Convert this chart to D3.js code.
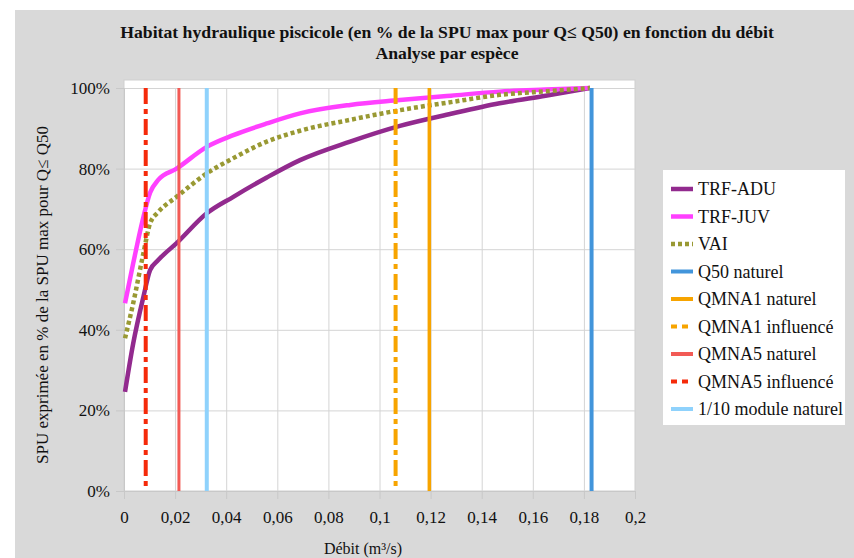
<!DOCTYPE html>
<html>
<head>
<meta charset="utf-8">
<script src="https://cdn.jsdelivr.net/npm/d3@7"></script>
<style>
  body { margin: 0; background: #fff; }
  svg text { font-family: "Liberation Serif", "Times New Roman", Times, serif !important; fill: #111; }
</style>
</head>
<body>
<div class="chartWrap"></div>
<script>
var width = 854,
  height = 558;

// débit (m3/s) for the habitat curves
var debit = [0.0004, 0.0036, 0.0076, 0.0102, 0.0134, 0.0206, 0.0324, 0.0428, 0.0559, 0.0689, 0.0885, 0.108, 0.128, 0.147, 0.165, 0.1824];
var trfAdu = [0.246, 0.366, 0.482, 0.548, 0.573, 0.615, 0.689, 0.730, 0.778, 0.821, 0.867, 0.906, 0.936, 0.962, 0.981, 1.0];
var trfJuv = [0.466, 0.565, 0.680, 0.740, 0.772, 0.800, 0.854, 0.883, 0.912, 0.937, 0.958, 0.970, 0.981, 0.991, 0.996, 1.0];
var vai = [0.379, 0.466, 0.590, 0.664, 0.692, 0.730, 0.788, 0.826, 0.867, 0.894, 0.921, 0.945, 0.965, 0.983, 0.992, 1.0];

// reference flows (vertical lines)
var refNames = ['Q50 naturel', 'QMNA1 naturel', 'QMNA1 influencé', 'QMNA5 naturel', 'QMNA5 influencé', '1/10 module naturel'];
var refValues = [0.183, 0.1195, 0.1063, 0.0215, 0.0085, 0.0324];

var xTicks = [0, 0.02, 0.04, 0.06, 0.08, 0.1, 0.12, 0.14, 0.16, 0.18, 0.2];
var yTicks = [0, 0.2, 0.4, 0.6, 0.8, 1];

var curves = [
  {name: 'TRF-ADU', values: trfAdu, color: '#922a8e', width: 4.5, dash: null},
  {name: 'TRF-JUV', values: trfJuv, color: '#ff40ff', width: 4.5, dash: null},
  {name: 'VAI', values: vai, color: '#999933', width: 4.5, dash: '4,3'}
];
var refStyles = [
  {color: '#4295db', width: 4, dash: null, legDash: null},
  {color: '#f7a400', width: 3.5, dash: null, legDash: null},
  {color: '#f7a400', width: 4, dash: '16,5,5,5', legDash: '6,5'},
  {color: '#f25a55', width: 3, dash: null, legDash: null},
  {color: '#f52a0a', width: 4, dash: '16,5,5,5', legDash: '6,5'},
  {color: '#8fd2fc', width: 4, dash: null, legDash: null}
];

var svg = d3.select('.chartWrap')
  .append('svg')
  .attr('width', width)
  .attr('height', height);

// gray chart area
svg.append('rect')
  .attr('x', 15).attr('y', 10)
  .attr('width', width - 15).attr('height', height - 10)
  .style('fill', '#d9d9d9');

var x = d3.scaleLinear().domain([0, 0.2]).range([124, 635]);
var y = d3.scaleLinear().domain([0, 1]).range([491, 88]);

//plot area
svg.append('rect')
  .attr('x', 124).attr('y', 80)
  .attr('width', 511).attr('height', 411)
  .style('fill', '#fff')
  .style('stroke', '#cfcfcf');

// grid lines
svg.append('g')
  .attr('transform', 'translate(0,491)')
  .call(d3.axisBottom(x).tickValues(xTicks).tickSize(-403).tickFormat(''))
  .call(function(g){
    g.select('.domain').remove();
    g.selectAll('line').style('stroke', '#d4d4d4');
  });
svg.append('g')
  .attr('transform', 'translate(124,0)')
  .call(d3.axisLeft(y).tickValues(yTicks).tickSize(-511).tickFormat(''))
  .call(function(g){
    g.select('.domain').remove();
    g.selectAll('line').style('stroke', '#d4d4d4');
  });

// axes
var fmtX = function(d){ return d3.format('~g')(d).replace('.', ','); };
svg.append('g')
  .attr('transform', 'translate(0,491)')
  .call(d3.axisBottom(x).tickValues(xTicks).tickSize(8).tickPadding(12).tickFormat(fmtX))
  .call(function(g){
    g.attr('font-family', null);
    g.select('.domain').style('stroke', '#c8c8c8');
    g.selectAll('line').style('stroke', '#c8c8c8');
    g.selectAll('text').style('font-size', '17px');
  });
svg.append('g')
  .attr('transform', 'translate(124,0)')
  .call(d3.axisLeft(y).tickValues(yTicks).tickSize(8).tickPadding(6).tickFormat(d3.format('.0%')))
  .call(function(g){
    g.attr('font-family', null);
    g.select('.domain').style('stroke', '#c8c8c8');
    g.selectAll('line').style('stroke', '#c8c8c8');
    g.selectAll('text').style('font-size', '17px');
  });

// habitat curves
var line = d3.line()
  .x(function(d){ return x(d[0]); })
  .y(function(d){ return y(d[1]); })
  .curve(d3.curveMonotoneX);

curves.forEach(function(c){
  svg.append('path')
    .datum(debit.map(function(v, i){ return [v, c.values[i]]; }))
    .attr('d', line)
    .style('fill', 'none')
    .style('stroke', c.color)
    .style('stroke-width', c.width)
    .style('stroke-dasharray', c.dash);
});

// reference flows
svg.selectAll('.refLine')
  .data(refValues)
  .enter()
    .append('line')
    .attr('class', 'refLine')
    .attr('x1', function(d){ return x(d); })
    .attr('x2', function(d){ return x(d); })
    .attr('y1', y(1))
    .attr('y2', y(0))
    .style('stroke', function(d, i){ return refStyles[i].color; })
    .style('stroke-width', function(d, i){ return refStyles[i].width; })
    .style('stroke-dasharray', function(d, i){ return refStyles[i].dash; });

// titles
svg.append('text')
  .attr('x', 447).attr('y', 38)
  .attr('text-anchor', 'middle')
  .style('font-size', '17.7px').style('font-weight', 'bold')
  .text('Habitat hydraulique piscicole (en % de la SPU max pour Q\u2264 Q50) en fonction du débit');
svg.append('text')
  .attr('x', 447).attr('y', 59)
  .attr('text-anchor', 'middle')
  .style('font-size', '17.7px').style('font-weight', 'bold')
  .text('Analyse par espèce');

svg.append('text')
  .attr('x', 363).attr('y', 554)
  .attr('text-anchor', 'middle')
  .style('font-size', '16px')
  .text('Débit (m³/s)');

svg.append('text')
  .attr('transform', 'translate(48,295) rotate(-90)')
  .attr('text-anchor', 'middle')
  .style('font-size', '17px')
  .text('SPU exprimée en % de la SPU max pour Q\u2264 Q50');

//legend
var legendItems = curves.map(function(c){
  return {name: c.name, color: c.color, width: c.width, dash: c.dash};
}).concat(refNames.map(function(n, i){
  return {name: n, color: refStyles[i].color, width: 4, dash: refStyles[i].legDash};
}));

svg.append('rect')
  .attr('x', 663).attr('y', 170)
  .attr('width', 182).attr('height', 255)
  .style('fill', '#fff');

var leg = svg.selectAll('.legItem')
  .data(legendItems)
  .enter()
    .append('g')
    .attr('class', 'legItem')
    .attr('transform', function(d, i){ return 'translate(671,' + (189 + i * 27.5) + ')'; });

leg.append('line')
  .attr('x1', 0).attr('x2', 22)
  .style('stroke', function(d){ return d.color; })
  .style('stroke-width', function(d){ return d.width; })
  .style('stroke-dasharray', function(d){ return d.dash; });

leg.append('text')
  .attr('x', 27).attr('y', 6)
  .style('font-size', '18px')
  .text(function(d){ return d.name; });
</script>
</body>
</html>
